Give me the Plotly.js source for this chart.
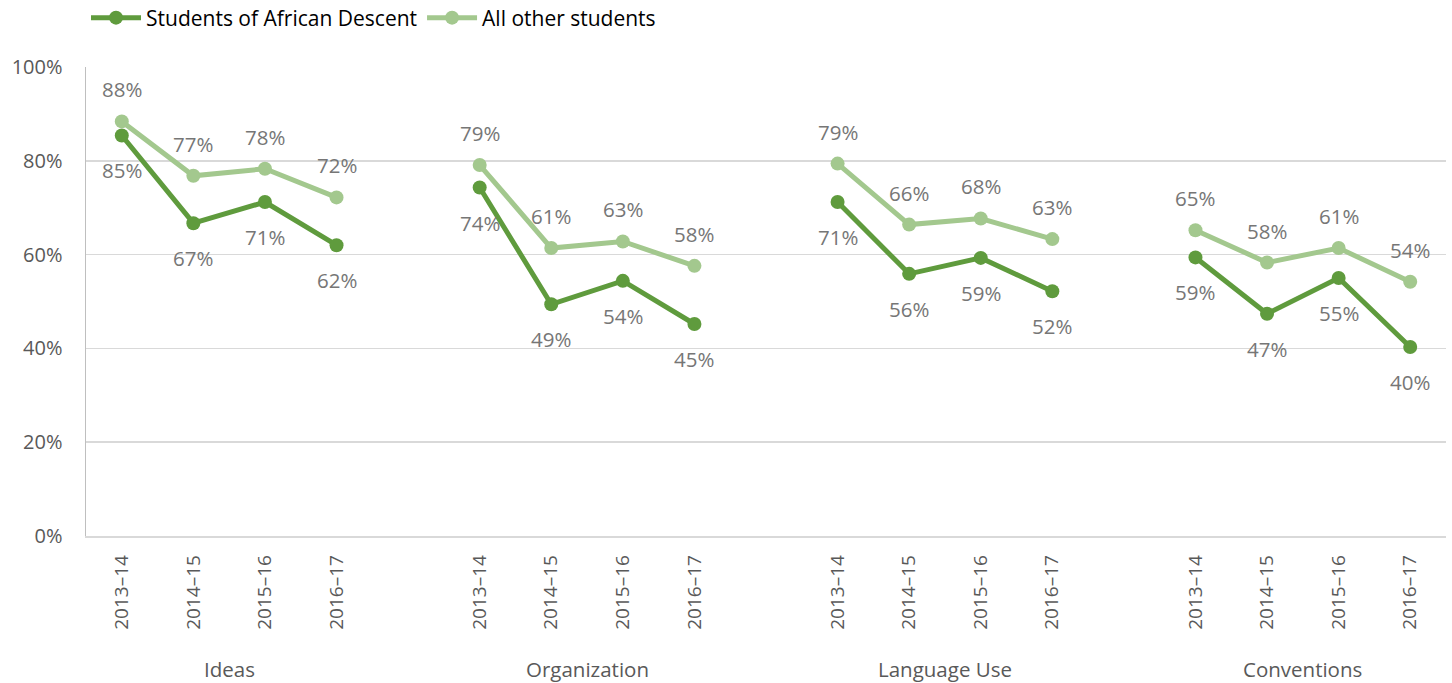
<!DOCTYPE html>
<html>
<head>
<meta charset="utf-8">
<script src="https://cdn.plot.ly/plotly-3.0.1.min.js"></script>
<style>html,body{margin:0;padding:0;background:#fff;}#chart{width:1452px;height:683px;}</style>
</head>
<body>
<div id="chart"></div>
<script>
// ---- data ----
const groups = ["Ideas", "Organization", "Language Use", "Conventions"];
const years = ["2013–14", "2014–15", "2015–16", "2016–17"];
const seriesNames = ["Students of African Descent", "All other students"];
const africanDescent = [
  [85.4, 66.7, 71.2, 62.0],
  [74.3, 49.4, 54.4, 45.2],
  [71.2, 55.9, 59.3, 52.2],
  [59.4, 47.4, 55.0, 40.3]
];
const allOther = [
  [88.4, 76.8, 78.3, 72.2],
  [79.1, 61.4, 62.8, 57.6],
  [79.4, 66.4, 67.7, 63.3],
  [65.2, 58.3, 61.4, 54.2]
];
const yTicks = [0, 20, 40, 60, 80, 100];

// ---- build ----
const darkColor = "#5f9b3d";
const lightColor = "#a3c88e";
const labelColor = "#767676";
const FONT = "Open Sans, Noto Sans, sans-serif";

const slot = years.length + 1;
const tickvals = [], ticktext = [];
groups.forEach((g, gi) => years.forEach((yr, yi) => { tickvals.push(gi * slot + yi); ticktext.push(yr); }));

function makeTraces(data, name, color) {
  return data.map((vals, gi) => ({
    type: "scatter", mode: "lines+markers",
    x: years.map((_, yi) => gi * slot + yi),
    y: vals,
    name: name,
    legendgroup: name,
    showlegend: gi === 0,
    line: { color: color, width: 5 },
    marker: { color: color, size: 14 },
    hoverinfo: "y"
  }));
}

const traces = [
  ...makeTraces(africanDescent, seriesNames[0], darkColor),
  ...makeTraces(allOther, seriesNames[1], lightColor)
];

const annotations = [];
groups.forEach((g, gi) => {
  years.forEach((yr, yi) => {
    const x = gi * slot + yi;
    annotations.push({ x: x, y: allOther[gi][yi], xref: "x", yref: "y", text: Math.round(allOther[gi][yi]) + "%",
      showarrow: false, yshift: 32, font: { family: FONT, size: 20.5, color: labelColor } });
    annotations.push({ x: x, y: africanDescent[gi][yi], xref: "x", yref: "y", text: Math.round(africanDescent[gi][yi]) + "%",
      showarrow: false, yshift: -35, font: { family: FONT, size: 20.5, color: labelColor } });
  });
  annotations.push({ x: gi * slot + (years.length - 1) / 2, y: 0, xref: "x", yref: "paper", yanchor: "middle",
    yshift: -133, text: g, showarrow: false, font: { family: FONT, size: 20.5, color: "#595959" } });
});

const layout = {
  width: 1452, height: 683,
  margin: { l: 86, r: 6, t: 67, b: 147, autoexpand: false },
  paper_bgcolor: "#fff", plot_bgcolor: "#fff",
  font: { family: FONT, color: "#595959" },
  showlegend: true,
  legend: { orientation: "h", x: 0, xanchor: "left", y: 1.1045, yanchor: "middle",
    font: { family: FONT, size: 21, color: "#000" }, itemwidth: 50, tracegroupgap: 0 },
  xaxis: {
    range: [-0.5, groups.length * slot - 1.5],
    tickmode: "array", tickvals: tickvals, ticktext: ticktext, tickangle: -90,
    tickfont: { family: FONT, size: 19, color: "#595959" },
    showgrid: false, zeroline: false, showline: true, linecolor: "#d9d9d9", linewidth: 1.5,
    ticks: "", ticklabelstandoff: 10, fixedrange: true
  },
  yaxis: {
    range: [0, 100], tickmode: "array", tickvals: yTicks, ticktext: yTicks.map(v => v + "%"),
    tickfont: { family: FONT, size: 20, color: "#595959" },
    showgrid: true, gridcolor: "#d9d9d9", gridwidth: 1.5, zeroline: false,
    showline: true, linecolor: "#bfbfbf", linewidth: 1.5, ticks: "", ticklabelstandoff: 18, fixedrange: true
  },
  annotations: annotations
};

Plotly.newPlot("chart", traces, layout, { displayModeBar: false, staticPlot: true });
</script>
</body>
</html>
